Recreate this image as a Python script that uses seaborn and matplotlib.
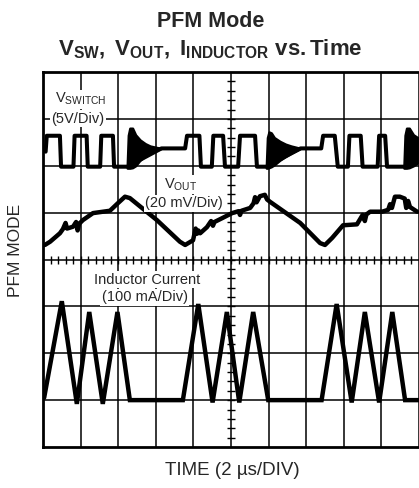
import matplotlib
matplotlib.use("Agg")
import matplotlib.pyplot as plt
import seaborn as sns
import pandas as pd
import numpy as np

# ---------------- data (in scope divisions: x 0..10, y 0..8) ----------------
# switch-node voltage polyline (levels: high ~6.64, low ~5.98, idle ~6.37)
vsw_x = [0.07, 0.10, 0.45, 0.48, 0.81, 0.84, 1.16, 1.19, 1.52, 1.55, 1.86, 1.89, 2.24,
         3.15, 3.78, 3.83, 4.16, 4.20, 4.49, 4.53, 4.79, 4.84, 5.19, 5.24, 5.64, 5.69, 5.94,
         6.85, 7.40, 7.45, 7.76, 7.84, 8.11, 8.15, 8.45, 8.50, 8.90, 8.94, 9.10, 9.15, 9.60]
vsw_y = [6.30, 6.64, 6.64, 5.98, 5.98, 6.64, 6.64, 5.98, 5.98, 6.64, 6.64, 5.98, 5.98,
         6.37, 6.37, 6.64, 6.64, 5.98, 5.98, 6.64, 6.64, 5.98, 5.98, 6.64, 6.64, 5.98, 5.98,
         6.37, 6.37, 6.64, 6.64, 5.98, 5.98, 6.64, 6.64, 5.98, 5.98, 6.64, 6.64, 5.98, 5.98]

# ringing envelopes after each burst
ring1_x = [2.24, 2.27, 2.31, 2.38, 2.46, 2.58, 2.72, 2.85, 3.02, 3.15]
ring1_top = [5.98, 6.65, 6.80, 6.80, 6.66, 6.55, 6.47, 6.42, 6.39, 6.37]
ring1_bot = [5.95, 5.95, 5.95, 5.96, 6.00, 6.12, 6.21, 6.27, 6.33, 6.37]
ring2_x = [5.94, 5.97, 6.01, 6.07, 6.15, 6.30, 6.45, 6.60, 6.75, 6.85]
ring2_top = [5.98, 6.60, 6.72, 6.70, 6.60, 6.52, 6.46, 6.42, 6.39, 6.37]
ring2_bot = [5.95, 5.95, 5.96, 5.98, 6.02, 6.12, 6.20, 6.27, 6.33, 6.37]
ring3_x = [9.60, 9.63, 9.67, 9.74, 9.85, 10.0]
ring3_top = [5.98, 6.65, 6.80, 6.80, 6.66, 6.58]
ring3_bot = [5.95, 5.95, 5.95, 5.96, 6.00, 6.08]

# output voltage ripple
vout_x = [0.05, 0.19, 0.45, 0.53, 0.60, 0.64, 0.80, 0.88, 0.92, 0.96, 1.06, 1.33, 1.78,
          1.99, 2.18, 2.31, 3.03, 3.64, 3.78, 3.99, 4.06, 4.10, 4.13, 4.18, 4.36, 4.47,
          4.52, 4.56, 4.76, 5.03, 5.20, 5.24, 5.28, 5.51, 5.60, 5.64, 5.68, 5.77, 5.90,
          5.96, 6.04, 6.84, 7.37, 7.50, 7.69, 7.98, 8.35, 8.50, 8.56, 8.60, 8.70, 9.02,
          9.18, 9.23, 9.28, 9.36, 9.49, 9.62, 9.66, 9.71, 9.76, 9.95]
vout_y = [4.31, 4.38, 4.56, 4.65, 4.78, 4.66, 4.70, 4.80, 4.62, 4.76, 4.84, 4.99, 5.04,
          5.20, 5.34, 5.31, 4.84, 4.38, 4.31, 4.41, 4.66, 4.55, 4.62, 4.56, 4.69, 4.82,
          4.72, 4.80, 4.88, 4.99, 5.03, 4.95, 5.04, 5.10, 5.20, 5.33, 5.22, 5.35, 5.38,
          5.28, 5.23, 4.78, 4.35, 4.31, 4.46, 4.73, 4.75, 4.95, 4.82, 4.96, 5.02, 5.02,
          5.06, 5.18, 5.10, 5.34, 5.34, 5.30, 5.10, 5.25, 5.12, 5.02]

# inductor current triangle bursts
il_x = [0.03, 0.50, 0.90, 1.23, 1.59, 1.98, 2.31, 3.72, 4.13, 4.51, 4.89, 5.22, 5.59,
        5.99, 7.41, 7.81, 8.21, 8.56, 8.94, 9.29, 9.63, 10.0]
il_y = [1.05, 3.11, 0.92, 2.88, 0.92, 2.88, 1.00, 1.00, 3.05, 0.95, 2.88, 0.95, 2.88,
        1.00, 1.00, 3.05, 0.95, 2.88, 0.95, 2.88, 1.00, 1.00]

x_divs = list(range(11))
y_divs = list(range(9))

# ---------------- style ----------------
sns.set_style("white")
plt.rcParams["font.family"] = ["Liberation Sans", "DejaVu Sans"]
plt.rcParams["mathtext.fontset"] = "custom"
plt.rcParams["mathtext.rm"] = "Liberation Sans"
plt.rcParams["mathtext.bf"] = "Liberation Sans:bold"
plt.rcParams["mathtext.it"] = "Liberation Sans:italic"
plt.rcParams["mathtext.sf"] = "Liberation Sans"

W, H = 419, 488
fig = plt.figure(figsize=(W / 100, H / 100), dpi=100)
ax = fig.add_axes([43 / W, 41 / H, 379 / W, 375 / H])
ax.set_xlim(0, 10.08)
ax.set_ylim(0, 8)

# graticule
for xv in x_divs[1:]:
    ax.axvline(xv, color="black", lw=1.1, zorder=1)
for yv in y_divs[1:-1]:
    ax.axhline(yv, color="black", lw=1.1, zorder=1)
tick_x = np.arange(0.2, 10.0, 0.2)
tick_y = np.arange(0.2, 8.0, 0.2)
ax.plot(tick_x, np.full_like(tick_x, 4.0), ls="none", marker="|", ms=6, mew=1.0,
        color="black", zorder=1)
ax.plot(np.full_like(tick_y, 5.0), tick_y, ls="none", marker="_", ms=6, mew=1.0,
        color="black", zorder=1)

for s in ax.spines.values():
    s.set_linewidth(2.0)
    s.set_color("black")
ax.spines["right"].set_visible(False)

# traces
df_sw = pd.DataFrame({"t": vsw_x, "v": vsw_y})
df_vo = pd.DataFrame({"t": vout_x, "v": vout_y})
df_il = pd.DataFrame({"t": il_x, "v": il_y})
for df, w, js in ((df_sw, 2.9, "round"), (df_vo, 3.2, "round"), (df_il, 3.2, "miter")):
    sns.lineplot(data=df, x="t", y="v", sort=False, estimator=None, color="black",
                 lw=w, ax=ax, zorder=3, solid_joinstyle=js)
for rx, rt, rb in ((ring1_x, ring1_top, ring1_bot), (ring2_x, ring2_top, ring2_bot),
                   (ring3_x, ring3_top, ring3_bot)):
    ax.fill_between(rx, rb, rt, color="black", lw=1.8, edgecolor="black", zorder=3)
ax.set_xlabel("")
ax.set_ylabel("")
ax.set_xticks([])
ax.set_yticks([])
ax.set_xlim(0, 10.08)
ax.set_ylim(0, 8)

# in-plot labels
fs = 10.5
box = dict(facecolor="white", edgecolor="none", pad=1.0)
ax.text(0.33, 7.42, r"$\mathrm{V_{SWITCH}}$", fontsize=fs, ha="left", va="center",
        zorder=4, bbox=box)
ax.text(0.22, 7.0, "(5V/Div)", fontsize=fs, ha="left", va="center", zorder=4, bbox=box)
ax.text(3.22, 5.6, r"$\mathrm{V_{OUT}}$", fontsize=fs, ha="left", va="center",
        zorder=4, bbox=box)
ax.text(2.72, 5.2, "(20 mV/Div)", fontsize=fs, ha="left", va="center", zorder=4,
        bbox=box)
ax.text(2.77, 3.57, "Inductor Current", fontsize=fs, ha="center", va="center",
        zorder=4, bbox=box)
ax.text(2.70, 3.19, "(100 mA/Div)", fontsize=fs, ha="center", va="center", zorder=4,
        bbox=box)

# titles and axis captions
fig.text(211 / W, 1 - 27 / H, "PFM Mode", fontsize=15.5, fontweight="bold",
         ha="center", va="baseline")
fig.text(210 / W, 1 - 55 / H, r"$\mathbf{V_{SW},\ V_{OUT},\ I_{INDUCTOR}\ vs.Time}$",
         fontsize=16, ha="center", va="baseline")
fig.text(15 / W, 1 - 250 / H, "PFM MODE", fontsize=12.5, rotation=90,
         ha="center", va="center")
fig.text(232 / W, 1 - 475 / H, "TIME (2 \u00b5s/DIV)", fontsize=13.5,
         ha="center", va="baseline")

fig.savefig("out.png", dpi=100)
